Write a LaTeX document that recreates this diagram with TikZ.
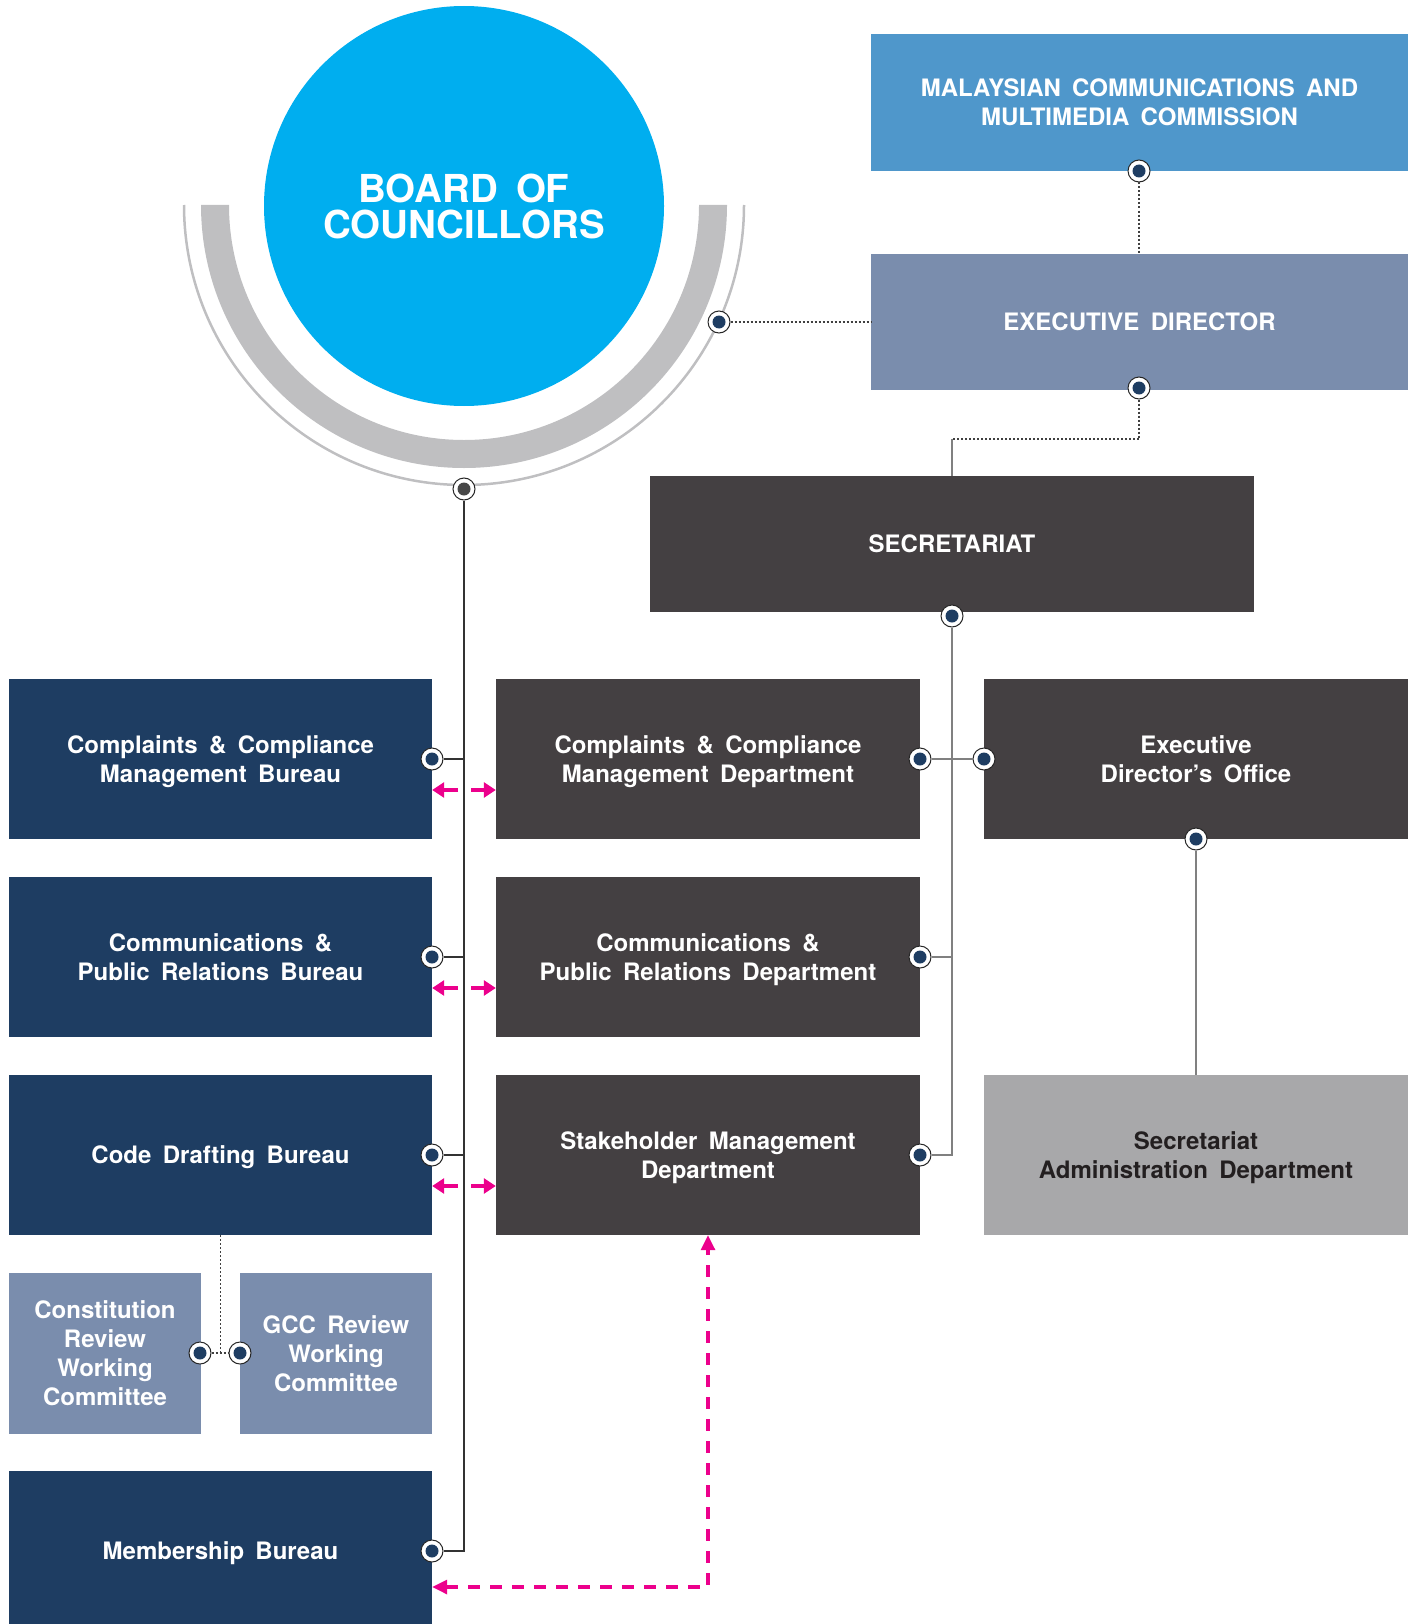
\documentclass[tikz,border=0pt]{standalone}
\usepackage{fontspec}
\setmainfont{TeX Gyre Heros}[WordSpace=1.7]
\usetikzlibrary{arrows.meta}
\definecolor{cyanb}{HTML}{00AEEF}
\definecolor{arcg}{HTML}{BFBFC1}
\definecolor{mcmcb}{HTML}{4F97CB}
\definecolor{slate}{HTML}{7A8DAD}
\definecolor{darkb}{HTML}{444042}
\definecolor{navy}{HTML}{1E3D62}
\definecolor{lgrey}{HTML}{A8A8AA}
\definecolor{pinkc}{HTML}{EC008C}
\definecolor{txtd}{HTML}{231F20}
\definecolor{lined}{HTML}{333333}
\definecolor{lineg}{HTML}{808080}
\tikzset{
  box/.style={rectangle, inner sep=0pt, align=center, text=white, text depth=0pt,
    font=\bfseries\fontsize{24}{29}\selectfont},
  conn/.style={circle, draw=black!85, line width=1pt, fill=white, minimum size=22pt, inner sep=0pt},
  ln/.style={draw=lined, line width=1.3pt},
  gln/.style={draw=lineg, line width=1.5pt},
  dotl/.style={draw=black!75, line width=1.3pt, dash pattern=on 2pt off 2pt},
  pk/.style={draw=pinkc, line width=3.6pt, -{Triangle[length=12pt,width=15pt]}},
  pkd/.style={draw=pinkc, line width=3.2pt, dash pattern=on 12pt off 10pt,
    {Triangle[length=15pt,width=14pt]}-{Triangle[length=15pt,width=14pt]}},
}
\newcommand\mkdot[3][navy]{\node[conn] (#2) at (#3) {}; \fill[#1] (#2.center) circle[radius=6.5];}
\begin{document}
\begin{tikzpicture}[x=1pt,y=-1pt]
\useasboundingbox (0,0) rectangle (1416,1624);
\clip (0,0) rectangle (1416,1624);
% arcs
\fill[arcg] (727,205) arc[start angle=0,end angle=180,radius=263] -- (229,205)
  arc[start angle=180,end angle=0,radius=235] -- cycle;
\draw[arcg, line width=2.5pt] (744,205) arc[start angle=0,end angle=180,radius=280];
\node[circle, fill=cyanb, minimum size=400pt, inner sep=0pt, align=center, text=white,
  font=\bfseries\fontsize{38.5}{36}\selectfont] (board) at (464,206) {BOARD OF\\COUNCILLORS};
% top right boxes
\node[box, fill=mcmcb, minimum width=537pt, minimum height=137pt] (mcmc) at (1139.5,102.5)
  {MALAYSIAN COMMUNICATIONS AND\\MULTIMEDIA COMMISSION};
\node[box, fill=slate, minimum width=537pt, minimum height=136pt] (ed) at (1139.5,322)
  {EXECUTIVE DIRECTOR};
\node[box, fill=darkb, minimum width=604pt, minimum height=136pt] (sec) at (952,544)
  {SECRETARIAT};
% bureaus
\node[box, fill=navy, minimum width=423pt, minimum height=160pt] (ccb) at (220.5,759)
  {Complaints \& Compliance\\Management Bureau};
\node[box, fill=navy, minimum width=423pt, minimum height=160pt] (cpb) at (220.5,957)
  {Communications \&\\Public Relations Bureau};
\node[box, fill=navy, minimum width=423pt, minimum height=160pt] (code) at (220.5,1155)
  {Code Drafting Bureau};
\node[box, fill=navy, minimum width=423pt, minimum height=160pt] (mem) at (220.5,1551)
  {Membership Bureau};
\node[box, fill=slate, minimum width=192pt, minimum height=161pt] (con) at (105,1353.5)
  {Constitution\\Review\\Working\\Committee};
\node[box, fill=slate, minimum width=192pt, minimum height=161pt] (gcc) at (336,1353.5)
  {GCC Review\\Working\\Committee};
% departments
\node[box, fill=darkb, minimum width=424pt, minimum height=160pt] (ccd) at (708,759)
  {Complaints \& Compliance\\Management Department};
\node[box, fill=darkb, minimum width=424pt, minimum height=160pt] (cpd) at (708,957)
  {Communications \&\\Public Relations Department};
\node[box, fill=darkb, minimum width=424pt, minimum height=160pt] (smd) at (708,1155)
  {Stakeholder Management\\Department};
\node[box, fill=darkb, minimum width=424pt, minimum height=160pt] (edo) at (1196,759)
  {Executive\\Director’s Office};
\node[box, fill=lgrey, text=txtd, minimum width=424pt, minimum height=160pt] (sad) at (1196,1155)
  {Secretariat\\Administration Department};
% dots
\mkdot{dmcmc}{1139,171}
\mkdot{ded}{1139,388}
\mkdot{dboard}{719,322}
\mkdot[black!72]{dbb}{464,489}
\mkdot{dsec}{952,616}
\mkdot{dccb}{432,759}
\mkdot{dcpb}{432,957}
\mkdot{dcode}{432,1155}
\mkdot{dmem}{432,1551}
\mkdot{dccd}{920,759}
\mkdot{dcpd}{920,957}
\mkdot{dsmd}{920,1155}
\mkdot{dedo}{984,759}
\mkdot{dedob}{1196,839}
\mkdot{dcon}{200,1353}
\mkdot{dgcc}{240,1353}
% dotted connectors
\draw[dotl] (dmcmc) -- (dmcmc |- ed.north);
\coordinate (k1) at (952,439);
\draw[dotl] (ded) |- (k1);
\draw[gln] (k1) -- (sec.north);
\draw[dotl] (dboard) -- (ed.west);
\draw[dotl] (code.south) -- (code.south |- dcon);
\draw[dotl] (dcon) -- (dgcc);
% left trunk
\draw[ln] (dbb) |- (dmem);
\draw[ln] (dccb) -- (dccb -| dbb);
\draw[ln] (dcpb) -- (dcpb -| dbb);
\draw[ln] (dcode) -- (dcode -| dbb);
% right trunk
\draw[gln] (dsec) |- (dsmd);
\draw[gln] (dccd) -- (dedo);
\draw[gln] (dcpd) -- (dcpd -| dsec);
\draw[gln] (dedob) -- (sad.north);
% pink arrows
\foreach \r/\b/\d/\yy in {1/ccb/ccd/790, 2/cpb/cpd/988, 3/code/smd/1186}{
  \coordinate (pa\r) at (458,\yy);
  \coordinate (pb\r) at (471,\yy);
  \draw[pk] (pa\r) -- (pa\r -| \b.east);
  \draw[pk] (pb\r) -- (pb\r -| \d.west);
}
\coordinate (pd) at (708,1587);
\draw[pkd] (mem.east |- pd) -- (pd) -- (smd.south);
\end{tikzpicture}
\end{document}
